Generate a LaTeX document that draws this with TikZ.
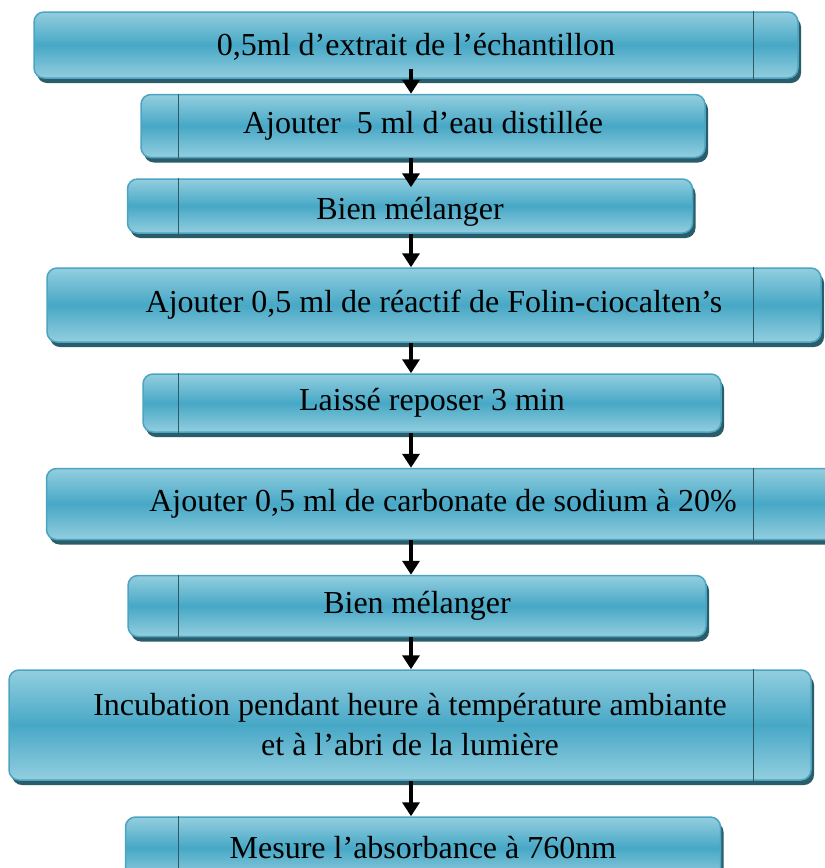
\documentclass[tikz,border=0pt]{standalone}
\usepackage{fontspec}
\setmainfont{Liberation Serif}
\usepackage{tikz}
\usetikzlibrary{arrows.meta}
\usetikzlibrary{shadows}
\definecolor{bleuclair}{HTML}{93CEDF}
\definecolor{bleufonce}{HTML}{47A8C6}
\definecolor{bordbleu}{HTML}{4AA4C2}
\definecolor{ombre}{HTML}{2A5C69}
\definecolor{trait}{HTML}{2E5A66}
\tikzset{
  etape/.style={rectangle, rounded corners=10pt, draw=bordbleu, line width=1.5pt,
    top color=bleuclair, bottom color=bleuclair, middle color=bleufonce,
    drop shadow={shadow xshift=3pt, shadow yshift=-5pt, fill=ombre, opacity=1},
    font=\fontsize{32}{40}\selectfont, align=center, inner sep=0pt},
  fleche/.style={line width=4.5pt, -{Triangle[width=17pt,length=14pt]}},
  barre/.style={draw=trait, line width=0.8pt}
}

\begin{document}
\begin{tikzpicture}[x=1pt,y=-1pt]
  \useasboundingbox (0,0) rectangle (825,868);
  \node[etape, minimum width=764pt, minimum height=66pt] (extrait) at (416,45) {\raisebox{-2pt}[\height][\depth]{0,5ml d’extrait de l’échantillon}};
  \node[etape, minimum width=564pt, minimum height=63pt] (eau) at (423,126) {Ajouter~ 5 ml d’eau distillée};
  \node[etape, minimum width=565pt, minimum height=54pt] (melange1) at (410,206) {\raisebox{-6pt}[\height][\depth]{Bien mélanger}};
  \node[etape, minimum width=774pt, minimum height=74pt] (folin) at (434,305) {Ajouter 0,5 ml de réactif de Folin-ciocalten’s};
  \node[etape, minimum width=578pt, minimum height=58pt] (repos) at (432,403) {Laissé reposer 3 min};
  \node[etape, minimum width=793pt, minimum height=71pt] (carbonate) at (443,504) {Ajouter 0,5 ml de carbonate de sodium à 20\%};
  \node[etape, minimum width=578pt, minimum height=61pt] (melange2) at (417,606) {Bien mélanger};
  \node[etape, minimum width=802pt, minimum height=110pt] (incubation) at (410,725) {Incubation pendant heure à température ambiante\\et à l’abri de la lumière};
  \node[etape, minimum width=595pt, minimum height=62pt] (mesure) at (423,848) {Mesure l’absorbance à 760nm};
  % traits verticaux
  \coordinate (gauche) at (178,0);
  \coordinate (droite) at (753,0);
  \foreach \n/\cote in {extrait/droite, eau/gauche, melange1/gauche, folin/droite, repos/gauche,
    carbonate/droite, melange2/gauche, incubation/droite, mesure/gauche}
    \draw[barre] (\n.north -| \cote) -- (\n.south -| \cote);
  % fleches
  \coordinate (axe) at (411,0);
  \draw[fleche, shorten <=-10pt] (extrait.south -| axe) -- (eau.north -| axe);
  \draw[fleche, shorten >=-9pt] (eau.south -| axe) -- (melange1.north -| axe);
  \draw[fleche] (melange1.south -| axe) -- (folin.north -| axe);
  \draw[fleche] (folin.south -| axe) -- (repos.north -| axe);
  \draw[fleche] (repos.south -| axe) -- (carbonate.north -| axe);
  \draw[fleche] (carbonate.south -| axe) -- (melange2.north -| axe);
  \draw[fleche] (melange2.south -| axe) -- (incubation.north -| axe);
  \draw[fleche] (incubation.south -| axe) -- (mesure.north -| axe);
\end{tikzpicture}
\end{document}
